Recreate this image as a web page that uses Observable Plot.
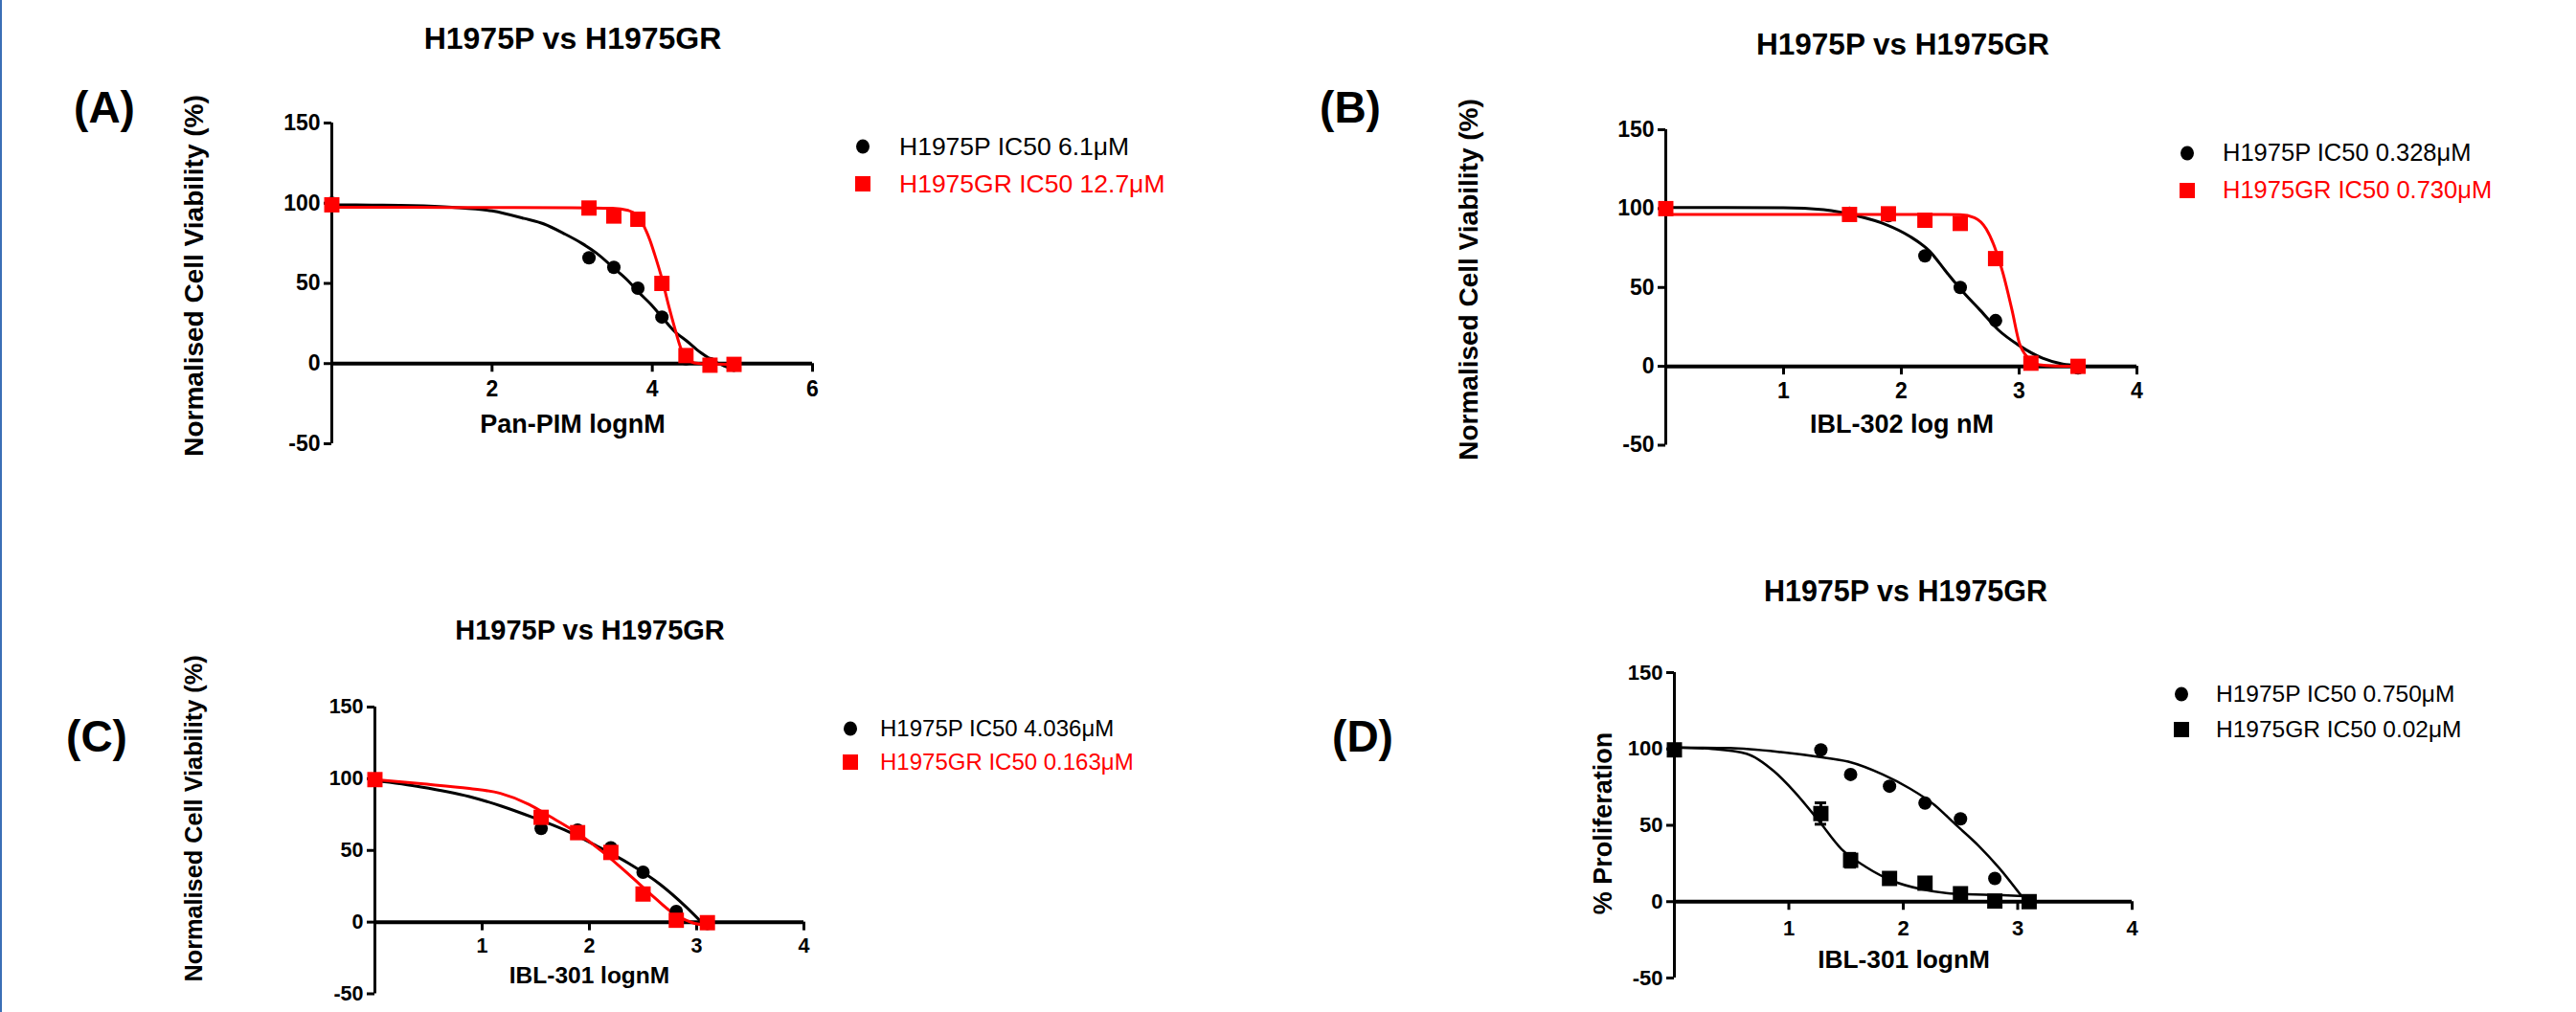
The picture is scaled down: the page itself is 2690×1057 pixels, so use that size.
<!DOCTYPE html>
<html><head><meta charset="utf-8">
<script src="https://cdn.jsdelivr.net/npm/d3@7"></script>
<script src="https://cdn.jsdelivr.net/npm/@observablehq/plot@0.6"></script>
<style>
html,body{margin:0;padding:0;background:#fff;}
#page{position:relative;width:2690px;height:1057px;overflow:hidden;background:#fff;font-family:"Liberation Sans",Arial,sans-serif;color:#000;}
.abs{position:absolute;white-space:nowrap;line-height:1;}
.c{transform:translate(-50%,-50%);}
.rot{transform:translate(-50%,-50%) rotate(-90deg);}
.b{font-weight:bold;}
.leg{position:absolute;white-space:nowrap;line-height:1;transform:translateY(-50%);}
.sym{position:absolute;transform:translate(-50%,-50%);}
#edge{position:absolute;left:0;top:0;width:2px;height:1057px;background:#3b6fb6;}
</style></head><body><div id="page"><div id="edge"></div></div>
<script>
// ---------- DATA ----------
const titleText = "H1975P vs H1975GR";
const yTicks = [-50, 0, 50, 100, 150];
const yDomain = [-50, 150];

// Panel A  (Pan-PIM)
const doseA = [0, 3.21, 3.52, 3.82, 4.12, 4.42, 4.72, 5.02];
const viabA_P = [100, 66, 60, 47, 29, 3, 0, -1];
const viabA_GR = [99, 97, 92, 90, 50, 5, -1, -0.5];
const fitA_P_x = [0, 0.5, 1, 1.5, 2, 2.4, 2.65, 2.9, 3.12, 3.3, 3.52, 3.7, 3.82, 4.0, 4.12, 4.3, 4.42, 4.6, 4.72, 4.9, 5.02];
const fitA_P_y = [99, 98.8, 98.5, 97.5, 95.2, 90.5, 87, 81, 75, 69, 59.5, 51.5, 45, 36, 29, 19, 14.5, 7, 3, -1.5, -3.5];
const fitA_GR_x = [0, 1, 2, 3, 3.5, 3.7, 3.8, 3.87, 3.93, 3.97, 4.03, 4.12, 4.2, 4.27, 4.36, 4.46, 4.6, 4.8, 5.02];
const fitA_GR_y = [97.5, 97.4, 97.3, 97.2, 96.8, 95.5, 93, 88, 82, 77, 68, 53, 37, 24, 9, 1.6, 0, -0.3, -0.4];
const xTicksA = [2, 4, 6];

// Panel B  (IBL-302)
const doseB = [0, 1.56, 1.89, 2.20, 2.50, 2.80, 3.10, 3.50];
const viabB_P = [100, 97, 95.5, 70, 50, 29, 2, -1];
const viabB_GR = [100, 96.3, 96.7, 92.6, 90.6, 68.3, 2, 0];
const fitB_P_x = [0, 0.5, 1, 1.34, 1.63, 1.86, 2.07, 2.24, 2.38, 2.53, 2.67, 2.82, 3.0, 3.2, 3.37, 3.5];
const fitB_P_y = [100.7, 100.7, 100.6, 99.3, 95.3, 90.2, 82.5, 73, 60, 46.6, 35.5, 23.3, 13.2, 5.1, 1.4, 0.5];
const fitB_GR_x = [0, 1, 2, 2.5, 2.62, 2.72, 2.79, 2.86, 2.94, 3.0, 3.08, 3.17, 3.3, 3.5];
const fitB_GR_y = [96.3, 96.3, 96.3, 96.2, 94.3, 87.2, 76, 59.8, 35.5, 15.2, 5.1, 1, 0.2, 0];
const xTicksB = [1, 2, 3, 4];

// Panel C  (IBL-301 viability)
const doseC = [0, 1.55, 1.89, 2.20, 2.50, 2.81, 3.10];
const viabC_P = [99.4, 65.3, 64.2, 51.9, 34.8, 7.4, -0.9];
const viabC_GR = [99.4, 73.1, 62.4, 48.6, 19.6, 1.3, -0.4];
const fitC_P_x = [0, 0.43, 0.88, 1.18, 1.47, 1.77, 2.07, 2.37, 2.66, 2.9, 3.08];
const fitC_P_y = [98.7, 94.3, 87.6, 80.9, 73.1, 64.2, 53, 40.8, 26.3, 10.7, -2.7];
const fitC_GR_x = [0, 0.43, 0.88, 1.17, 1.44, 1.62, 1.89, 2.13, 2.37, 2.57, 2.78, 2.96, 3.08];
const fitC_GR_y = [99.4, 96.5, 93.2, 89.8, 82, 74.2, 62, 48.6, 33, 19.6, 6.2, -0.4, -2.2];
const xTicksC = [1, 2, 3, 4];

// Panel D  (IBL-301 proliferation)
const doseD = [0, 1.28, 1.54, 1.88, 2.19, 2.50, 2.80, 3.10];
const profD_P = [99.4, 99.4, 83.3, 75.6, 64.6, 54.2, 15.2, 0];
const profD_GR = [99.4, 57.7, 27.1, 15.2, 12.1, 5.2, 0.4, 0];
const errD_GR = [0, 7, 4.5, 3.5, 2.5, 2, 0, 0];
const fitD_P_x = [0, 0.48, 0.93, 1.26, 1.52, 1.82, 2.06, 2.27, 2.45, 2.66, 2.84, 3.03];
const fitD_P_y = [101, 100.6, 97.9, 94.8, 91.7, 83.3, 74, 63.5, 51, 36.5, 21.9, 4];
const fitD_GR_x = [0, 0.33, 0.63, 0.87, 1.05, 1.26, 1.46, 1.67, 1.91, 2.15, 2.45, 2.87, 3.1];
const fitD_GR_y = [101, 100, 96.9, 85.4, 71.9, 53.1, 34.4, 22.9, 13.5, 8.3, 5.2, 4.2, 3.5];
const xTicksD = [1, 2, 3, 4];

const seriesLabels = {
  A: ["H1975P IC50 6.1\u03bcM", "H1975GR IC50 12.7\u03bcM"],
  B: ["H1975P IC50 0.328\u03bcM", "H1975GR IC50 0.730\u03bcM"],
  C: ["H1975P IC50 4.036\u03bcM", "H1975GR IC50 0.163\u03bcM"],
  D: ["H1975P IC50 0.750\u03bcM", "H1975GR IC50 0.02\u03bcM"]
};
const xLabels = {A: "Pan-PIM lognM", B: "IBL-302 log nM", C: "IBL-301 lognM", D: "IBL-301 lognM"};
const yLabels = {A: "Normalised Cell Viability (%)", B: "Normalised Cell Viability (%)", C: "Normalised Cell Viability (%)", D: "% Proliferation"};

// ---------- BUILD ----------
const page = document.getElementById("page");
const zip = (xs, ys) => xs.map((x, i) => ({x, y: ys[i]}));

function addText(txt, x, y, size, cls, color) {
  const d = document.createElement("div");
  d.className = "abs " + cls;
  d.style.left = x + "px"; d.style.top = y + "px";
  d.style.fontSize = size + "px";
  if (color) d.style.color = color;
  d.textContent = txt;
  page.appendChild(d);
}

function addLegend(L, labels, colors, shapes) {
  labels.forEach((lab, i) => {
    const y = L.y0 + i * L.dy;
    const s = document.createElement("div");
    s.className = "sym";
    s.style.left = L.sx + "px"; s.style.top = y + "px";
    if (shapes[i] === "circle") { s.style.width = "14px"; s.style.height = "15px"; s.style.borderRadius = "50%"; }
    else { s.style.width = "16px"; s.style.height = "16px"; }
    s.style.background = colors[i];
    page.appendChild(s);
    const t = document.createElement("div");
    t.className = "leg";
    t.style.left = L.tx + "px"; t.style.top = y + "px";
    t.style.fontSize = L.size + "px"; t.style.color = colors[i] === "#000" ? "#000" : L.textColors[i];
    t.textContent = lab;
    page.appendChild(t);
  });
}

function panel(cfg) {
  const mL = 70, mR = 30, mT = 20, mB = 20;
  const width = (cfg.right - cfg.left) + mL + mR;
  const height = (cfg.bottom - cfg.top) + mT + mB;
  const xDomain = [0, cfg.xTicks[cfg.xTicks.length - 1]];
  const marks = [
    Plot.ruleX([xDomain[0]], {y1: yDomain[0], y2: yDomain[1], stroke: "#000", strokeWidth: 3}),
    Plot.axisY({ticks: yTicks, tickSize: 8, tickPadding: 4, tickFormat: d => String(d), fontSize: cfg.tickFont, fontWeight: "bold", color: "#000", strokeWidth: 3, label: null}),
    Plot.ruleY([0], {x1: xDomain[0], x2: xDomain[1], stroke: "#000", strokeWidth: 4}),
    Plot.ruleX(cfg.xTicks, {x: d => d, y1: 0, y2: 0, insetBottom: -9, stroke: "#000", strokeWidth: 3}),
    Plot.text(cfg.xTicks, {x: d => d, y: 0, text: d => String(d), dy: cfg.xTickDy, fontSize: cfg.tickFont, fontWeight: "bold", fill: "#000"})
  ];
  cfg.lines.forEach(l => marks.push(Plot.line(l.data, {x: "x", y: "y", stroke: l.color, strokeWidth: l.w || 3, curve: "monotone-x"})));
  if (cfg.errs) {
    const e = cfg.errs.data.filter(d => d.e > 0);
    marks.push(Plot.ruleX(e, {x: "x", y1: d => d.y - d.e, y2: d => d.y + d.e, stroke: cfg.errs.color, strokeWidth: 3}));
    marks.push(Plot.ruleY(e, {y: d => d.y + d.e, x1: "x", x2: "x", insetLeft: -6, insetRight: -6, stroke: cfg.errs.color, strokeWidth: 3}));
    marks.push(Plot.ruleY(e, {y: d => d.y - d.e, x1: "x", x2: "x", insetLeft: -6, insetRight: -6, stroke: cfg.errs.color, strokeWidth: 3}));
  }
  cfg.points.forEach(p => marks.push(Plot.dot(p.data, {x: "x", y: "y", symbol: p.symbol, r: p.symbol === "square" ? 9 : 7, fill: p.color})));
  const svg = Plot.plot({
    width, height, marginLeft: mL, marginRight: mR, marginTop: mT, marginBottom: mB,
    x: {domain: xDomain, axis: null},
    y: {domain: yDomain},
    style: {background: "transparent", overflow: "visible", fontFamily: "'Liberation Sans', Arial, sans-serif", color: "#000"},
    marks
  });
  svg.style.position = "absolute";
  svg.style.left = (cfg.left - mL) + "px";
  svg.style.top = (cfg.top - mT) + "px";
  page.appendChild(svg);
}

const RED = "#ff0000", BLK = "#000";

panel({left: 346, right: 848, top: 128, bottom: 463, xTicks: xTicksA, tickFont: 23, xTickDy: 27,
  lines: [{data: zip(fitA_P_x, fitA_P_y), color: BLK}, {data: zip(fitA_GR_x, fitA_GR_y), color: RED}],
  points: [{data: zip(doseA, viabA_P), color: BLK, symbol: "circle"}, {data: zip(doseA, viabA_GR), color: RED, symbol: "square"}]});
panel({left: 1739, right: 2231, top: 134.5, bottom: 464, xTicks: xTicksB, tickFont: 23, xTickDy: 26,
  lines: [{data: zip(fitB_P_x, fitB_P_y), color: BLK}, {data: zip(fitB_GR_x, fitB_GR_y), color: RED}],
  points: [{data: zip(doseB, viabB_P), color: BLK, symbol: "circle"}, {data: zip(doseB, viabB_GR), color: RED, symbol: "square"}]});
panel({left: 391, right: 839, top: 738, bottom: 1037.5, xTicks: xTicksC, tickFont: 21.5, xTickDy: 25,
  lines: [{data: zip(fitC_P_x, fitC_P_y), color: BLK}, {data: zip(fitC_GR_x, fitC_GR_y), color: RED}],
  points: [{data: zip(doseC, viabC_P), color: BLK, symbol: "circle"}, {data: zip(doseC, viabC_GR), color: RED, symbol: "square"}]});
panel({left: 1748, right: 2226, top: 702, bottom: 1021, xTicks: xTicksD, tickFont: 22, xTickDy: 28,
  lines: [{data: zip(fitD_P_x, fitD_P_y), color: BLK, w: 2.5}, {data: zip(fitD_GR_x, fitD_GR_y), color: BLK, w: 2.5}],
  errs: {data: doseD.map((x, i) => ({x, y: profD_GR[i], e: errD_GR[i]})), color: BLK},
  points: [{data: zip(doseD, profD_P), color: BLK, symbol: "circle"}, {data: zip(doseD, profD_GR), color: BLK, symbol: "square"}]});

// titles
addText(titleText, 598, 40, 32, "c b");
addText(titleText, 1987, 47, 31.5, "c b");
addText(titleText, 616, 658, 29, "c b");
addText(titleText, 1990, 617, 30.5, "c b");
// panel letters
addText("(A)", 109, 112, 46, "c b");
addText("(B)", 1410, 112, 46, "c b");
addText("(C)", 101, 769, 46, "c b");
addText("(D)", 1423, 769, 46, "c b");
// y labels
addText(yLabels.A, 203, 288, 28, "rot b");
addText(yLabels.B, 1534, 292, 28, "rot b");
addText(yLabels.C, 202.5, 855, 25.3, "rot b");
addText(yLabels.D, 1674, 860, 27, "rot b");
// x labels
addText(xLabels.A, 598, 443, 27, "c b");
addText(xLabels.B, 1986, 443, 27, "c b");
addText(xLabels.C, 615.5, 1019, 24.5, "c b");
addText(xLabels.D, 1988, 1002, 26.3, "c b");
// legends
addLegend({sx: 901, tx: 939, y0: 153, dy: 39, size: 26.5, textColors: [BLK, RED]}, seriesLabels.A, [BLK, RED], ["circle", "square"]);
addLegend({sx: 2284, tx: 2321, y0: 160, dy: 39, size: 25.5, textColors: [BLK, RED]}, seriesLabels.B, [BLK, RED], ["circle", "square"]);
addLegend({sx: 888, tx: 919, y0: 761, dy: 35, size: 24, textColors: [BLK, RED]}, seriesLabels.C, [BLK, RED], ["circle", "square"]);
addLegend({sx: 2278, tx: 2314, y0: 725, dy: 37, size: 24.5, textColors: [BLK, BLK]}, seriesLabels.D, [BLK, BLK], ["circle", "square"]);
</script></body></html>
